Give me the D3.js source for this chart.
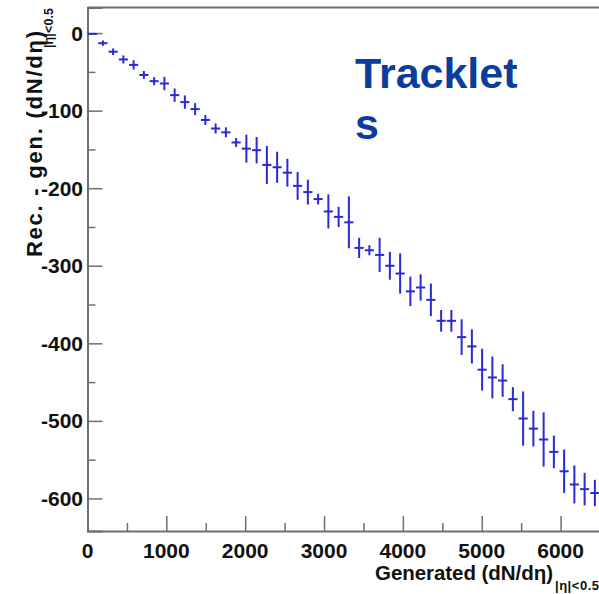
<!DOCTYPE html>
<html>
<head>
<meta charset="utf-8">
<script src="https://cdn.jsdelivr.net/npm/d3@7"></script>
<style>
  html, body { margin: 0; padding: 0; background: #ffffff; }
  svg { display: block; }
  text { font-family: "Liberation Sans", Arial, Helvetica, sans-serif; font-weight: bold; }
</style>
</head>
<body>
<svg id="chart" width="599" height="594"></svg>
<script>
// Generated multiplicity (bin centres, bin width 130)
const generated = [
  65, 195, 325, 455, 585, 715, 845, 975, 1105, 1235,
  1365, 1495, 1625, 1755, 1885, 2015, 2145, 2275, 2405, 2535,
  2665, 2795, 2925, 3055, 3185, 3315, 3445, 3575, 3705, 3835,
  3965, 4095, 4225, 4355, 4485, 4615, 4745, 4875, 5005, 5135,
  5265, 5395, 5525, 5655, 5785, 5915, 6045, 6175, 6305, 6435
];
// Reconstructed minus generated dN/deta
const difference = [
  -1, -13, -24, -34, -41, -54, -62, -65, -80, -89,
  -98, -112, -123, -128, -141, -149, -151, -170, -173, -180,
  -197, -205, -214, -230, -237, -244, -277, -280, -286, -300,
  -310, -333, -328, -344, -371, -371, -392, -404, -434, -444,
  -448, -472, -497, -510, -524, -540, -565, -582, -588, -593
];
// Statistical error on each bin
const errors = [
  0, 3.5, 4.3, 5.2, 6, 5.2, 5.2, 8.6, 8.6, 8.6,
  7.7, 6.5, 6.5, 6.5, 5.8, 18, 17, 24.5, 20, 18,
  18, 16, 7, 22, 13, 33.5, 13, 6.5, 22, 18,
  26, 19, 17, 21, 14, 14, 23, 22, 27, 27,
  21, 15.5, 35, 23, 35, 21, 28, 24.5, 21, 17
];
const binHalfWidth = 58;

const xMajorTicks = [0, 1000, 2000, 3000, 4000, 5000, 6000];
const xMinorTicks = [500, 1500, 2500, 3500, 4500, 5500, 6500];
const yMajorTicks = [0, -100, -200, -300, -400, -500, -600];
const yMinorTicks = [-50, -150, -250, -350, -450, -550];

const plot = { left: 87.5, right: 600, top: 7.5, bottom: 531 };
const axisColor = "#6f6f6f";
const markColor = "#2a2ad6";
const textColor = "#111111";

const svg = d3.select("#chart");

const x = d3.scaleLinear().domain([0, 6500]).range([plot.left, plot.right]);
const y = d3.scaleLinear().domain([-642, 33]).range([plot.bottom, plot.top]);

// Frame top edge
svg.append("line")
  .attr("x1", plot.left).attr("x2", plot.right)
  .attr("y1", plot.top).attr("y2", plot.top)
  .attr("stroke", axisColor).attr("stroke-width", 2);

// X axis with inward (upward) ticks
const xAxis = svg.append("g").attr("transform", `translate(0,${plot.bottom})`);
xAxis.call(d3.axisTop(x).tickValues(xMajorTicks).tickSize(15).tickFormat(""));
xAxis.append("g").call(d3.axisTop(x).tickValues(xMinorTicks).tickSize(8).tickFormat(""));
xAxis.selectAll("g g path.domain").remove();
xAxis.selectAll("path.domain").attr("stroke", axisColor).attr("stroke-width", 2);
xAxis.selectAll(".tick line").attr("stroke", axisColor).attr("stroke-width", 1.5);

svg.append("g").selectAll("text")
  .data(xMajorTicks)
  .join("text")
  .attr("x", d => x(d))
  .attr("y", 558)
  .attr("text-anchor", "middle")
  .attr("font-size", 21)
  .attr("fill", textColor)
  .text(d => String(d));

// Y axis with inward (rightward) ticks
const yAxis = svg.append("g").attr("transform", `translate(${plot.left},0)`);
yAxis.call(d3.axisRight(y).tickValues(yMajorTicks).tickSize(15).tickFormat(""));
yAxis.append("g").call(d3.axisRight(y).tickValues(yMinorTicks).tickSize(8).tickFormat(""));
yAxis.selectAll("g g path.domain").remove();
yAxis.selectAll("path.domain").attr("stroke", axisColor).attr("stroke-width", 2);
yAxis.selectAll(".tick line").attr("stroke", axisColor).attr("stroke-width", 1.5);

svg.append("g").selectAll("text")
  .data(yMajorTicks)
  .join("text")
  .attr("x", 83)
  .attr("y", d => y(d))
  .attr("dy", "0.36em")
  .attr("text-anchor", "end")
  .attr("font-size", 21)
  .attr("fill", textColor)
  .text(d => String(d));

// Data: error-bar crosses
const points = svg.append("g").attr("stroke", markColor).attr("stroke-width", 2);
const data = generated.map((g, i) => ({ g, d: difference[i], e: errors[i] }));

points.selectAll("line.h")
  .data(data)
  .join("line")
  .attr("class", "h")
  .attr("x1", p => x(p.g - binHalfWidth))
  .attr("x2", p => x(p.g + binHalfWidth))
  .attr("y1", p => y(p.d))
  .attr("y2", p => y(p.d));

points.selectAll("line.v")
  .data(data.filter(p => p.e > 0))
  .join("line")
  .attr("class", "v")
  .attr("x1", p => x(p.g))
  .attr("x2", p => x(p.g))
  .attr("y1", p => y(p.d + p.e))
  .attr("y2", p => y(p.d - p.e));

// Y axis title (rotated), with subscript
svg.append("text")
  .attr("transform", "translate(42,257) rotate(-90)")
  .attr("font-size", 22)
  .attr("fill", textColor)
  .attr("textLength", 226)
  .attr("lengthAdjust", "spacing")
  .text("Rec. - gen. (dN/dη)");
svg.append("text")
  .attr("transform", "translate(53,48) rotate(-90)")
  .attr("font-size", 12.5)
  .attr("fill", textColor)
  .attr("textLength", 40)
  .attr("lengthAdjust", "spacing")
  .text("|η|<0.5");

// X axis title with subscript
svg.append("text")
  .attr("x", 375)
  .attr("y", 580)
  .attr("font-size", 20.5)
  .attr("fill", textColor)
  .attr("textLength", 178)
  .attr("lengthAdjust", "spacing")
  .text("Generated (dN/dη)");
svg.append("text")
  .attr("x", 555)
  .attr("y", 590)
  .attr("font-size", 13)
  .attr("fill", textColor)
  .attr("textLength", 44)
  .attr("lengthAdjust", "spacing")
  .text("|η|<0.5");

// Annotation
const label = svg.append("text")
  .attr("x", 355)
  .attr("y", 88)
  .attr("font-size", 43)
  .attr("fill", "#0b3d9c");
label.append("tspan").attr("x", 355).text("Tracklet");
label.append("tspan").attr("x", 355).attr("dy", 51).text("s");
</script>
</body>
</html>
